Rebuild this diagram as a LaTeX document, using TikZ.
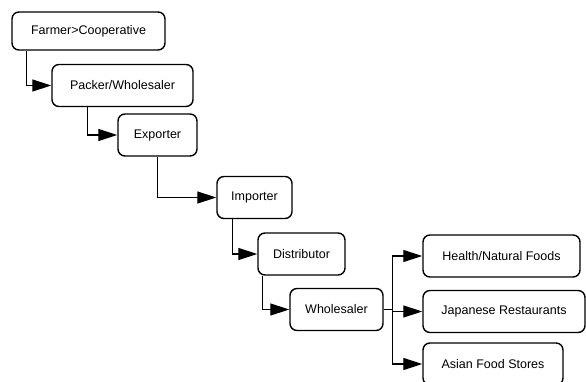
\documentclass[tikz,border=0pt]{standalone}
\usepackage{fontspec}
\setmainfont{Liberation Sans}
\usetikzlibrary{arrows.meta,positioning,calc}

\begin{document}
\begin{tikzpicture}[
  x=1pt, y=-1pt,
  box/.style={draw, line width=1.4pt, rounded corners=7pt, minimum height=42pt,
              font=\fontsize{12.5}{14}\selectfont, inner sep=0pt, align=center},
  arrow/.style={-{Triangle[length=19pt, width=12pt]}, line width=1.2pt}
]
  \useasboundingbox (0,0) rectangle (586,382);
  \clip (0,0) rectangle (586,382);

  % supply chain
  \node[box, minimum width=153pt, minimum height=38pt] (farmer) at (88.5, 31) {Farmer>Cooperative};
  \node[box, minimum width=141pt] (packer)  at (122.5, 85.5) {Packer/Wholesaler};
  \node[box, minimum width=79pt]  (export)  at (157.5, 135)  {Exporter};
  \node[box, minimum width=75pt]  (import)  at (254.5, 197.5) {Importer};
  \node[box, minimum width=87pt]  (distrib) at (301.5, 254)  {Distributor};
  \node[box, minimum width=93pt]  (whole)   at (336.5, 309.5) {Wholesaler};
  \draw[arrow] ([xshift=15pt]farmer.south west)  |- (packer.west);
  \draw[arrow] ([xshift=36pt]packer.south west)  |- (export.west);
  \draw[arrow] ([xshift=40pt]export.south west)  |- (import.west);
  \draw[arrow] ([xshift=16pt]import.south west)  |- (distrib.west);
  \draw[arrow] ([xshift=5pt]distrib.south west)  |- (whole.west);

  % retail outlets
  \node[box, minimum width=157pt] (health) at (501.5, 256)   {Health/Natural Foods};
  \node[box, minimum width=162pt] (japan)  at (504, 311.5)   {Japanese Restaurants};
  \node[box, minimum width=140pt] (asian)  at (493, 364)     {Asian Food Stores};
  \coordinate (split) at ($(whole.east)+(9,0)$);
  \draw[line width=1.2pt] (whole.east) -- (split);
  \draw[arrow] (split) |- (health.west);
  \draw[arrow] (split) -- (split |- japan.west) -- (japan.west);
  \draw[arrow] (split) |- (asian.west);
\end{tikzpicture}
\end{document}
